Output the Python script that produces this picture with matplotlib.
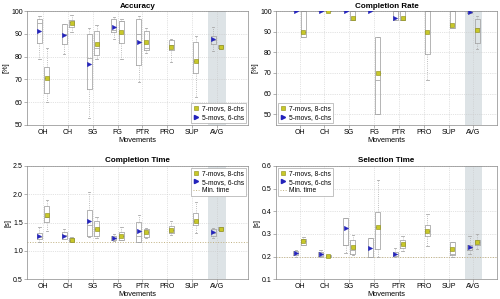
import numpy as np
import matplotlib
matplotlib.use('Agg')
import matplotlib.pyplot as plt
from matplotlib.lines import Line2D

plt.rcParams['font.family'] = ['Liberation Sans', 'DejaVu Sans']

# categorias
cats = ['OH', 'CH', 'SG', 'FG', 'PTR', 'PRO', 'SUP', 'AVG']

# cada tupla: (bigote inf, q1, mediana, q3, bigote sup, media)
acc_7 = [(60.3, 64, 70.5, 75.4, 84, 70.5), (90.7, 93.1, 95, 96, 98.2, 94.9),
         (79, 80.5, 84, 91.3, 93.9, 85.4), (79, 85.9, 95.5, 95.8, 96.5, 91),
         (81.8, 82.7, 84, 91.3, 92.4, 86.3), (77.5, 82.7, 85, 87.5, 87.8, 84.4),
         (62.5, 72.7, 78, 86.3, 89.2, 78.3), (83.5, 83.7, 84.5, 85.1, 85.3, 84.3)]
acc_5 = [(79, 86, 94.7, 96.4, 98, 91.3), (81, 85.4, 90, 94.3, 94.5, 89.5),
         (53.1, 65.9, 79.3, 89.8, 92.4, 76.8), (87.8, 91, 91.5, 96.5, 97.2, 93),
         (68.8, 76.4, 89.8, 96.5, 97.8, 86.3), None, None,
         (82.5, 85.4, 87.5, 89, 93, 87.8)]

rate_7 = [(87.5, 87.5, 90, 100, 100, 90), (100, 100, 100, 100, 100, 100),
          (95.8, 95.8, 100, 100, 100, 96.7), (50, 50, 66.7, 87.5, 87.5, 70),
          (95.8, 95.8, 100, 100, 100, 96.7), (66.7, 79, 100, 100, 100, 90),
          (91.7, 91.7, 100, 100, 100, 93.3), (81.5, 84.7, 91.6, 96.1, 97.5, 90.8)]
rate_5 = [(100, 100, 100, 100, 100, 100), (100, 100, 100, 100, 100, 100),
          (100, 100, 100, 100, 100, 100), (100, 100, 100, 100, 100, 100),
          (95.8, 95.8, 100, 100, 100, 96.7), None, None,
          (99, 99.2, 100, 100, 100, 99.7)]

ctime_7 = [(1.36, 1.51, 1.60, 1.79, 1.90, 1.63), (1.15, 1.17, 1.20, 1.23, 1.25, 1.20),
           (1.23, 1.27, 1.38, 1.52, 1.60, 1.38), (1.19, 1.19, 1.26, 1.34, 1.42, 1.26),
           (1.23, 1.25, 1.33, 1.38, 1.41, 1.33), (1.29, 1.31, 1.37, 1.44, 1.535, 1.37),
           (1.31, 1.45, 1.52, 1.67, 1.87, 1.52), (1.36, 1.37, 1.39, 1.42, 1.43, 1.39)]
ctime_5 = [(1.157, 1.205, 1.24, 1.31, 1.42, 1.256), (1.21, 1.21, 1.28, 1.34, 1.395, 1.27),
           (1.24, 1.26, 1.45, 1.72, 2.04, 1.53), (1.18, 1.20, 1.23, 1.27, 1.30, 1.23),
           (1.15, 1.16, 1.27, 1.51, 1.64, 1.35), None, None,
           (1.22, 1.27, 1.32, 1.38, 1.41, 1.33)]

stime_7 = [(0.249, 0.253, 0.268, 0.278, 0.285, 0.268), (0.198, 0.200, 0.202, 0.205, 0.208, 0.202),
           (0.205, 0.21, 0.23, 0.273, 0.297, 0.242), (0.2, 0.232, 0.33, 0.397, 0.54, 0.329),
           (0.223, 0.239, 0.257, 0.275, 0.29, 0.257), (0.246, 0.29, 0.315, 0.34, 0.39, 0.315),
           (0.2, 0.205, 0.21, 0.264, 0.264, 0.232), (0.232, 0.25, 0.265, 0.275, 0.30, 0.265)]
stime_5 = [(0.2, 0.207, 0.217, 0.225, 0.23, 0.217), (0.2, 0.202, 0.213, 0.22, 0.23, 0.213),
           (0.214, 0.25, 0.253, 0.371, 0.371, 0.327), (0.2, 0.2, 0.2, 0.283, 0.283, 0.239),
           (0.2, 0.202, 0.213, 0.22, 0.239, 0.213), None, None,
           (0.21, 0.229, 0.24, 0.253, 0.293, 0.243)]

min_ctime = 1.15
min_stime = 0.2

lab7 = '7-movs, 8-chs'
lab5 = '5-movs, 6-chs'

AMARILLO = '#c8c828'
AZUL = '#2222bb'
GRIS = '#a8a8a8'
SOMBRA = '#dde3e6'

fig = plt.figure(figsize=(5, 2.99), dpi=100)
pos = [[0.054, 0.582, 0.442, 0.381], [0.552, 0.582, 0.442, 0.381],
       [0.054, 0.066, 0.442, 0.379], [0.552, 0.066, 0.442, 0.379]]


def cajas(ax, datos, offset, color, marker, ms):
    stats = []
    xs = []
    medias = []
    for i, d in enumerate(datos):
        if d is None:
            continue
        lo, q1, med, q3, hi, mu = d
        stats.append(dict(whislo=lo, q1=q1, med=med, q3=q3, whishi=hi, fliers=[]))
        xs.append(i + 1 + offset)
        medias.append(mu)
    ax.bxp(stats, positions=xs, widths=0.2, showfliers=False, manage_ticks=False,
           boxprops=dict(color=GRIS, lw=0.6),
           medianprops=dict(color=GRIS, lw=0.6),
           whiskerprops=dict(color=GRIS, lw=0.6, ls=':'),
           capprops=dict(color=GRIS, lw=0.6), capwidths=0.1)
    ax.plot(xs, medias, ls='none', marker=marker, color=color, ms=ms,
            mec=color if marker == '>' else '#8a8a10', mew=0.4, zorder=5)


def panel(ax, d7, d5, titulo, ylab, ylim, yticks, xlim, loc, minimo=None):
    ax.axvspan(7.65, 8.35, color=SOMBRA, zorder=0, lw=0)
    ax.grid(True, ls=':', color='#c8c8c8', lw=0.5)
    ax.set_axisbelow(True)
    if minimo is not None:
        ax.axhline(minimo, ls=':', color='#c0b080', lw=0.7, zorder=1)
    cajas(ax, d5, -0.15, AZUL, '>', 3)
    cajas(ax, d7, 0.15, AMARILLO, 's', 2.6)
    ax.set_xlim(xlim)
    ax.set_ylim(ylim)
    ax.set_yticks(yticks)
    ax.set_xticks(range(1, len(cats) + 1))
    ax.set_xticklabels(cats)
    ax.tick_params(labelsize=5, length=2, width=0.4, pad=1, color='#777777')
    for s in ax.spines.values():
        s.set_color('#888888')
        s.set_linewidth(0.5)
    ax.set_title(titulo, fontsize=5.8, fontweight='bold', pad=2.5)
    ax.set_xlabel('Movements', fontsize=5.3, labelpad=0.5)
    ax.set_ylabel(ylab, fontsize=5.3, labelpad=1)
    h = [Line2D([], [], ls='none', marker='s', color=AMARILLO, mec='#8a8a10', mew=0.4, ms=2.6),
         Line2D([], [], ls='none', marker='>', color=AZUL, ms=3)]
    l = [lab7, lab5]
    if minimo is not None:
        h.append(Line2D([], [], ls=':', color='#c0b080', lw=0.7))
        l.append('Min. time')
    leg = ax.legend(h, l, loc=loc, fontsize=4.8, handlelength=1.0, handletextpad=0.4,
                    borderpad=0.3, labelspacing=0.25, borderaxespad=0.3, fancybox=False,
                    framealpha=1)
    leg.get_frame().set_edgecolor('#aaaaaa')
    leg.get_frame().set_linewidth(0.5)


ax1 = fig.add_axes(pos[0])
panel(ax1, acc_7, acc_5, 'Accuracy', '[%]', (50, 100), np.arange(50, 101, 10),
      (0.35, 9.25), 'lower right')
ax2 = fig.add_axes(pos[1])
panel(ax2, rate_7, rate_5, 'Completion Rate', '[%]', (44.8, 100), np.arange(50, 101, 10),
      (0.05, 8.95), 'lower left')
ax3 = fig.add_axes(pos[2])
panel(ax3, ctime_7, ctime_5, 'Completion Time', '[s]', (0.5, 2.5), np.arange(0.5, 2.51, 0.5),
      (0.35, 9.25), 'upper right', min_ctime)
ax4 = fig.add_axes(pos[3])
panel(ax4, stime_7, stime_5, 'Selection Time', '[s]', (0.1, 0.6), np.arange(0.1, 0.61, 0.1),
      (0.05, 8.95), 'upper left', min_stime)

fig.savefig('out.png', dpi=100)
